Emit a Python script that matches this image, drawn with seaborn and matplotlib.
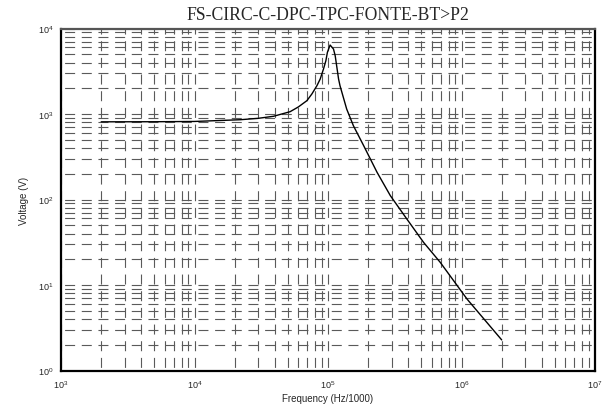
import matplotlib
matplotlib.use("Agg")
import matplotlib.pyplot as plt
import seaborn as sns
import pandas as pd
from matplotlib.ticker import LogLocator, NullFormatter

# Data
freq = [2e3, 5e3, 1e4, 2.2e4, 3e4, 3.9e4, 5.2e4, 6e4, 6.95e4, 7.57e4, 8.26e4, 8.74e4, 9.25e4,
        9.64e4, 9.9e4, 1.037e5, 1.099e5, 1.132e5, 1.2e5, 1.23e5, 1.38e5, 1.55e5,
        1.85e5, 2.33e5, 2.93e5, 3.9e5, 5.2e5, 6.93e5, 1.1e6, 2e6]
volt = [810, 812, 818, 857, 890, 940, 1064, 1210, 1432, 1714, 2143, 2565, 3357,
        4200, 5270, 6410, 5755, 4810, 2565, 2143, 1143, 729,
        426, 208, 111, 59, 31.5, 18.4, 6.85, 2.28]

title = "FS-CIRC-C-DPC-TPC-FONTE-BT>P2"
xlabel = "Frequency (Hz/1000)"
ylabel = "Voltage (V)"

sns.set_style("white")
plt.rcParams["font.family"] = ["Liberation Sans", "DejaVu Sans"]
plt.rcParams["mathtext.default"] = "regular"
plt.rcParams["lines.scale_dashes"] = False

df = pd.DataFrame({"freq": freq, "volt": volt})

fig = plt.figure(figsize=(6.05, 4.10), dpi=100)
ax = fig.add_axes([61 / 605, 1 - 371.5 / 410, (595 - 61) / 605, (371.5 - 29.5) / 410])
ax.set_xscale("log")
ax.set_yscale("log")
ax.set_xlim(1e3, 1e7)
ax.set_ylim(1e0, 1e4)

sns.lineplot(data=df, x="freq", y="volt", ax=ax, color="black", linewidth=1.0, zorder=3)

ax.xaxis.set_minor_locator(LogLocator(base=10, subs=range(2, 10), numticks=20))
ax.yaxis.set_minor_locator(LogLocator(base=10, subs=range(2, 10), numticks=20))
ax.xaxis.set_minor_formatter(NullFormatter())
ax.yaxis.set_minor_formatter(NullFormatter())

ax.grid(True, which="both", color="#5a5a5a", linewidth=0.8,
        linestyle=(9.4, (7.2, 4.8)), zorder=1)
ax.set_axisbelow(True)

ax.tick_params(which="major", direction="out", length=4, width=1, labelsize=6.5,
               color="black", pad=1.5)
ax.tick_params(which="minor", direction="in", length=3, width=0.8, color="black")

for side in ["left", "bottom", "right"]:
    ax.spines[side].set_color("black")
    ax.spines[side].set_linewidth(1.6)
ax.spines["top"].set_color("#555555")
ax.spines["top"].set_linewidth(1.6)

ax.set_xlabel(xlabel, fontsize=7, labelpad=2)
ax.set_ylabel(ylabel, fontsize=7, labelpad=6)
ax.set_title(title, fontsize=12.7, family=["Liberation Serif", "DejaVu Serif"], pad=6.5)

fig.savefig("out.png", dpi=100)
